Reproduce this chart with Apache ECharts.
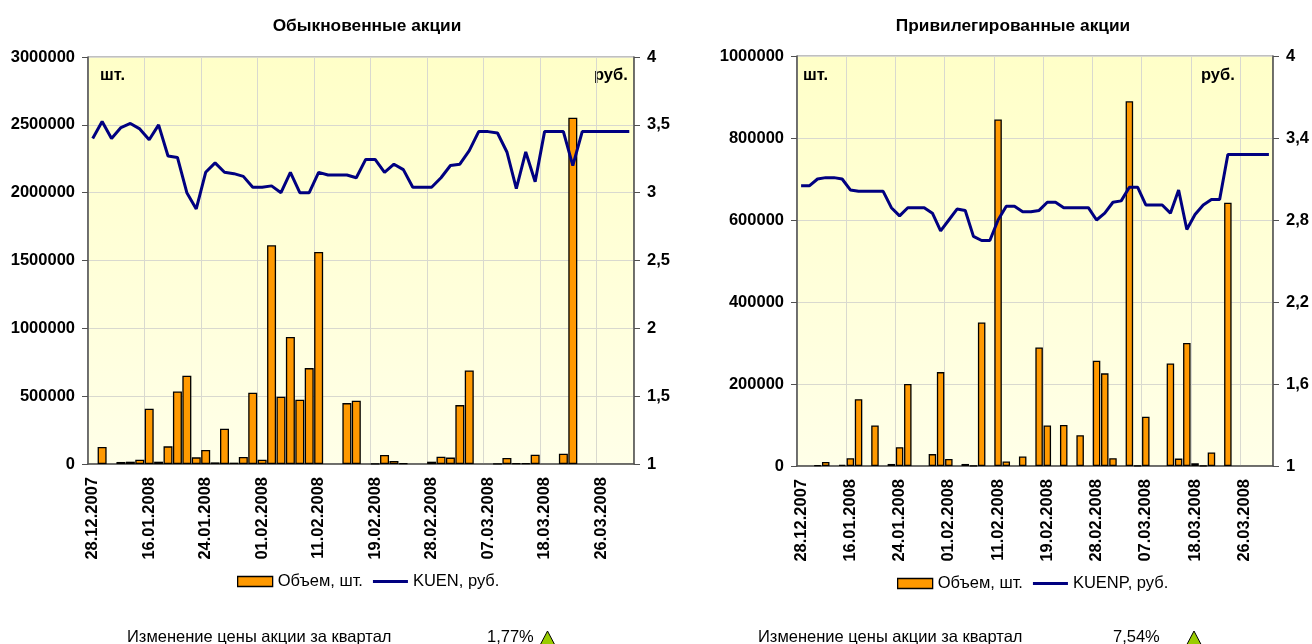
<!DOCTYPE html>
<html>
<head>
<meta charset="utf-8">
<title>Акции</title>
<script src="https://cdn.jsdelivr.net/npm/echarts@6/dist/echarts.min.js"></script>
<style>
  html, body { margin: 0; padding: 0; background: #fff; }
  #chart { width: 1312px; height: 644px; }
</style>
</head>
<body>
<div id="chart"></div>
<script>
// подписи оси X, одна на каждые 6 категорий
const dateLabels = ['28.12.2007', '16.01.2008', '24.01.2008', '01.02.2008', '11.02.2008', '19.02.2008', '28.02.2008', '07.03.2008', '18.03.2008', '26.03.2008']
const categoryCount = 58

// обыкновенные акции
const volumeKuen = [null, 125000, null, 15000, 17000, 32000, 407000, 17000, 130000, 535000, 650000, 49000, 103000, 12000, 260000, 10000, 52000, 525000, 32000, 1612000, 496000, 937000, 474000, 707000, 1563000, null, null, 449000, 466000, null, 3000, 66000, 22000, 5000, null, null, 17000, 54000, 47000, 434000, 690000, null, null, 2000, 44000, 5000, 5000, 69000, null, null, 76000, 2552000, null, null, null, null, null, null]
const priceKuen = [3.40, 3.525, 3.40, 3.48, 3.51, 3.47, 3.39, 3.50, 3.27, 3.26, 3.00, 2.88, 3.15, 3.22, 3.15, 3.14, 3.12, 3.04, 3.04, 3.05, 3.00, 3.15, 3.00, 3.00, 3.15, 3.13, 3.13, 3.13, 3.11, 3.245, 3.245, 3.15, 3.21, 3.17, 3.04, 3.04, 3.04, 3.11, 3.20, 3.21, 3.31, 3.45, 3.45, 3.44, 3.30, 3.03, 3.30, 3.08, 3.45, 3.45, 3.45, 3.20, 3.45, 3.45, 3.45, 3.45, 3.45, 3.45]

// привилегированные акции
const volumeKuenp = [null, null, 2000, 10000, null, 3000, 19000, 163000, null, 99000, null, 5000, 46000, 200000, null, null, 29000, 229000, 17000, null, 5000, 1000, 350000, null, 845000, 11000, null, 23000, null, 289000, 99000, null, 100000, null, 75000, null, 257000, 226000, 19000, null, 889500, 1000, 120000, null, null, 250000, 18000, 300000, 6500, 1000, 33000, null, 642000, null, null, null, null, null]
const priceKuenp = [3.05, 3.05, 3.10, 3.11, 3.11, 3.10, 3.02, 3.01, 3.01, 3.01, 3.01, 2.89, 2.83, 2.89, 2.89, 2.89, 2.85, 2.72, 2.80, 2.88, 2.87, 2.68, 2.65, 2.65, 2.80, 2.90, 2.90, 2.86, 2.86, 2.87, 2.93, 2.93, 2.89, 2.89, 2.89, 2.89, 2.80, 2.85, 2.93, 2.94, 3.04, 3.04, 2.91, 2.91, 2.91, 2.85, 3.02, 2.73, 2.84, 2.91, 2.95, 2.95, 3.28, 3.28, 3.28, 3.28, 3.28, 3.28]

// шкалы правых осей
const priceTicksKuen = [1, 1.5, 2, 2.5, 3, 3.5, 4]
const priceTicksKuenp = [1, 1.6, 2.2, 2.8, 3.4, 4]

const categories = []
for (let i = 0; i < categoryCount; i++) {
  categories.push(i % 6 === 0 ? dateLabels[i / 6] : '')
}

const font = 'Liberation Sans'
const fontSize = 16.5
const axisColor = '#505050'
const gridColor = '#d9d9cf'
const barName = 'Объем, шт.'

const plotBackground = new echarts.graphic.LinearGradient(0, 0, 0, 1, [
  { offset: 0, color: '#ffffc8' },
  { offset: 1, color: '#ffffe8' }
])

const makeGrid = (left, top, width, height) => ({
  left, top, width, height,
  show: true,
  backgroundColor: plotBackground,
  borderColor: '#808080',
  borderWidth: 1
})

const makeXAxis = (gridIndex) => ({
  type: 'category',
  gridIndex,
  data: categories,
  boundaryGap: true,
  axisLine: { lineStyle: { color: axisColor, width: 1.5 } },
  axisTick: { interval: 5, length: 5, lineStyle: { color: axisColor } },
  axisLabel: { interval: 5, rotate: 90, margin: 13, color: '#000', fontFamily: font, fontWeight: 'bold', fontSize },
  splitLine: { show: true, interval: 5, lineStyle: { color: gridColor } }
})

const makeVolumeAxis = (gridIndex, max, interval) => ({
  type: 'value',
  gridIndex,
  min: 0,
  max,
  interval,
  axisLine: { show: true, lineStyle: { color: axisColor, width: 1.5 } },
  axisTick: { show: true, length: 6, lineStyle: { color: axisColor } },
  axisLabel: { margin: 13, color: '#000', fontFamily: font, fontWeight: 'bold', fontSize, formatter: (value) => String(value) },
  splitLine: { show: true, lineStyle: { color: gridColor } }
})

const makePriceAxis = (gridIndex, ticks) => ({
  type: 'value',
  gridIndex,
  position: 'right',
  min: 1,
  max: 4,
  axisLine: { show: true, lineStyle: { color: axisColor, width: 1.5 } },
  axisTick: { show: true, length: 6, customValues: ticks, lineStyle: { color: axisColor } },
  axisLabel: {
    customValues: ticks,
    margin: 13,
    color: '#000',
    fontFamily: font,
    fontWeight: 'bold',
    fontSize,
    formatter: (value) => String(value).replace('.', ',')
  },
  splitLine: { show: false }
})

const makeBars = (index, data, barWidth) => ({
  name: barName,
  type: 'bar',
  xAxisIndex: index,
  yAxisIndex: index * 2,
  data,
  barWidth,
  itemStyle: { color: '#ff9900', borderColor: '#000', borderWidth: 1.3 },
  animation: false
})

const makeLine = (index, name, data) => ({
  name,
  type: 'line',
  xAxisIndex: index,
  yAxisIndex: index * 2 + 1,
  data,
  showSymbol: false,
  symbol: 'none',
  z: 5,
  lineStyle: { color: '#000080', width: 3 },
  itemStyle: { color: '#000080' },
  animation: false
})

const makeLegend = (left, top, lineName) => ({
  left,
  top,
  padding: 0,
  data: [
    { name: barName, icon: 'rect', itemStyle: { color: '#ff9900', borderColor: '#000', borderWidth: 1.3 } },
    { name: lineName, icon: 'path://M0 0H35V3H0Z', itemStyle: { color: '#000080' } }
  ],
  itemWidth: 35,
  itemHeight: 10,
  itemGap: 10,
  textStyle: { fontFamily: font, fontSize, color: '#000' }
})

// текст задаётся по центру строки
const label = (x, y, text, bold) => ({
  type: 'text',
  x,
  y,
  style: { text, fontFamily: font, fontSize, fontWeight: bold ? 'bold' : 'normal', fill: '#000', verticalAlign: 'middle' }
})

const triangle = (apexX) => ({
  type: 'polygon',
  shape: { points: [[apexX, 631], [apexX - 10, 650], [apexX + 10, 650]] },
  style: { fill: '#99cc00', stroke: '#000', lineWidth: 1 }
})

const titleStyle = { fontFamily: font, fontSize: 17.3, fontWeight: 'bold', color: '#000' }

const chart = echarts.init(document.getElementById('chart'), null, { renderer: 'canvas' })

chart.setOption({
  backgroundColor: '#fff',
  animation: false,
  title: [
    { text: 'Обыкновенные акции', left: 362, top: 13, textAlign: 'center', textStyle: titleStyle },
    { text: 'Привилегированные акции', left: 1008, top: 13, textAlign: 'center', textStyle: titleStyle }
  ],
  legend: [makeLegend(237, 573, 'KUEN, руб.'), makeLegend(897, 575, 'KUENP, руб.')],
  grid: [makeGrid(88, 57, 546, 407), makeGrid(797, 56, 476, 410)],
  xAxis: [makeXAxis(0), makeXAxis(1)],
  yAxis: [
    makeVolumeAxis(0, 3000000, 500000),
    makePriceAxis(0, priceTicksKuen),
    makeVolumeAxis(1, 1000000, 200000),
    makePriceAxis(1, priceTicksKuenp)
  ],
  series: [
    makeBars(0, volumeKuen, 9),
    makeLine(0, 'KUEN, руб.', priceKuen),
    makeBars(1, volumeKuenp, 7.5),
    makeLine(1, 'KUENP, руб.', priceKuenp)
  ],
  graphic: [
    label(100, 75, 'шт.', true),
    label(594, 75, 'руб.', true),
    label(803, 75, 'шт.', true),
    label(1201, 75, 'руб.', true),
    label(127, 637, 'Изменение цены акции за квартал', false),
    label(487, 637, '1,77%', false),
    label(758, 637, 'Изменение цены акции за квартал', false),
    label(1113, 637, '7,54%', false),
    triangle(547.5),
    triangle(1194)
  ]
})
</script>
</body>
</html>
